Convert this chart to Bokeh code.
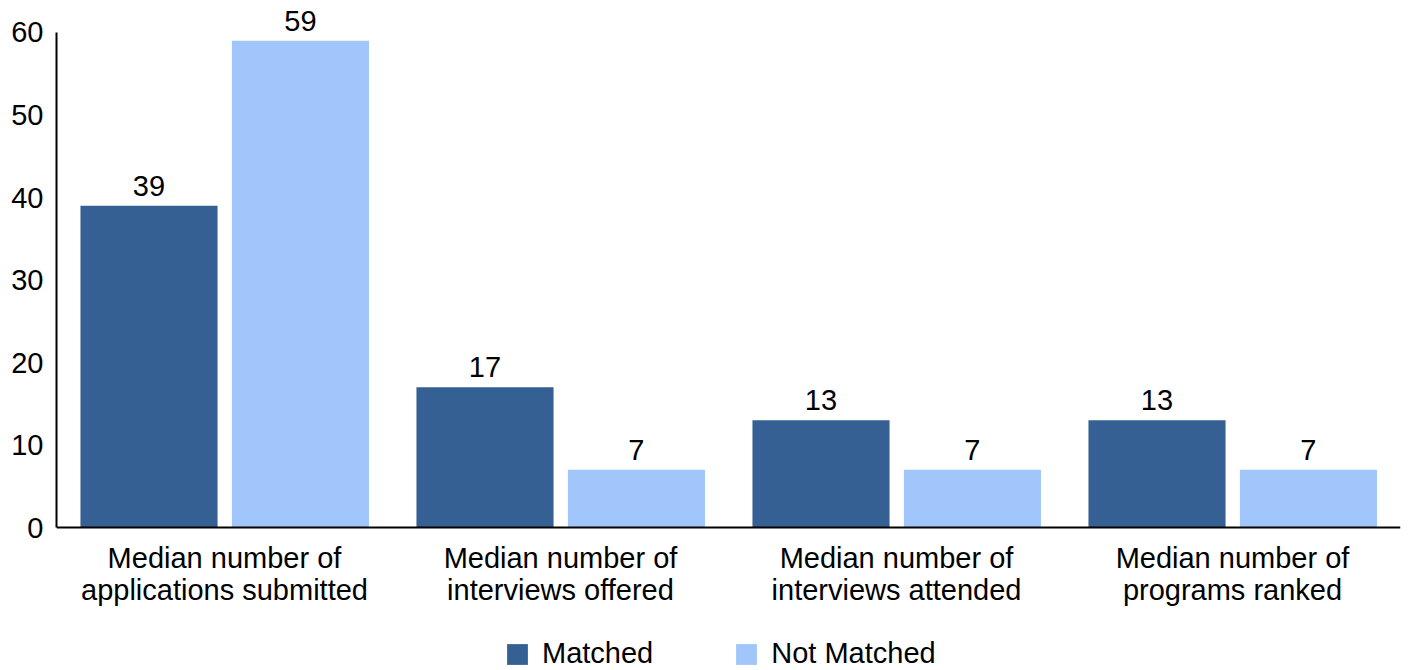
from bokeh.plotting import figure
from bokeh.models import ColumnDataSource, FactorRange, Range1d, Legend, LegendItem, FixedTicker, Span
from bokeh.transform import dodge
from bokeh.embed import file_html
from bokeh.resources import INLINE
from bokeh.core.properties import value

categories = ["Median number of\napplications submitted", "Median number of\ninterviews offered",
              "Median number of\ninterviews attended", "Median number of\nprograms ranked"]
matched = [39, 17, 13, 13]
not_matched = [59, 7, 7, 7]
series_names = ["Matched", "Not Matched"]
colors = ["#356093", "#A0C6FC"]
y_ticks = [0, 10, 20, 30, 40, 50, 60]

FONT = "Liberation Sans"

src = ColumnDataSource(data=dict(
    cat=categories, matched=matched, not_matched=not_matched,
    zero=[0] * len(categories),
    matched_lbl=[str(v) for v in matched], not_matched_lbl=[str(v) for v in not_matched],
))

# the frame extends below zero so that the category labels and legend sit inside it
p = figure(x_range=FactorRange(*categories, range_padding=0), y_range=Range1d(-17.33, 63.03),
           frame_width=1344, frame_height=663, output_backend="svg", toolbar_location=None,
           x_axis_location=None,
           min_border_left=56, min_border_right=5, min_border_top=7, min_border_bottom=0)
p.outline_line_color = None
p.xgrid.grid_line_color = None
p.ygrid.grid_line_color = None

w = 0.408
r1 = p.vbar(x=dodge("cat", -0.2247, range=p.x_range), top="matched", width=w, source=src,
            fill_color=colors[0], line_color=None)
r2 = p.vbar(x=dodge("cat", 0.226, range=p.x_range), top="not_matched", width=w, source=src,
            fill_color=colors[1], line_color=None)

p.text(x=dodge("cat", -0.2247, range=p.x_range), y="matched", text="matched_lbl", source=src,
       text_align="center", text_baseline="bottom", y_offset=-10,
       text_font=value(FONT), text_font_size="29px", text_color="#000000")
p.text(x=dodge("cat", 0.226, range=p.x_range), y="not_matched", text="not_matched_lbl", source=src,
       text_align="center", text_baseline="bottom", y_offset=-10,
       text_font=value(FONT), text_font_size="29px", text_color="#000000")

# category labels under the baseline
p.text(x="cat", y="zero", text="cat", source=src, text_align="center", text_baseline="top",
       y_offset=14, text_line_height=1.02,
       text_font=value(FONT), text_font_size="29px", text_color="#000000")

# x axis line at zero
p.add_layout(Span(location=0, dimension="width", line_color="#000000", line_width=2))

p.yaxis.ticker = FixedTicker(ticks=y_ticks)
p.yaxis.bounds = (0, 60)
ax = p.yaxis[0]
ax.axis_line_color = "#000000"
ax.axis_line_width = 2
ax.major_tick_line_color = None
ax.minor_tick_line_color = None
ax.major_label_text_font = FONT
ax.major_label_text_font_size = "29px"
ax.major_label_text_color = "#000000"
ax.major_label_standoff = 7

legend = Legend(items=[LegendItem(label=series_names[0], renderers=[r1]),
                       LegendItem(label=series_names[1], renderers=[r2])],
                orientation="horizontal", location=(448, 0),
                label_text_font=FONT, label_text_font_size="29px", label_text_color="#000000",
                glyph_width=26, glyph_height=26, label_standoff=12, spacing=80,
                border_line_color=None, background_fill_alpha=0, padding=0, margin=0)
p.add_layout(legend, "center")

open("out.html", "w").write(file_html(p, INLINE))
